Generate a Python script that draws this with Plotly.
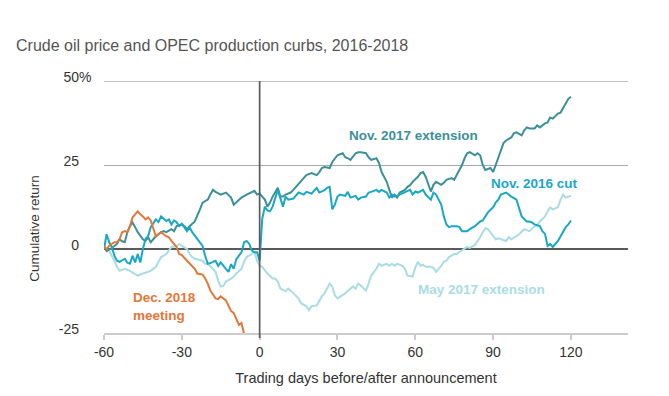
import plotly.graph_objects as go

# ---- data ----
nov2016_days = [-60, -59, -58, -57, -56, -55, -54, -52, -51, -50, -49, -48, -47, -46, -45, -44, -43, -42, -40, -39, -38, -36, -35, -34, -33, -32, -31, -30, -28, -27, -26, -24, -22, -21, -20, -19, -17, -16, -15, -13, -12, -11, -10, -9, -7, -6, -5, -4, -3, -2, -1, 0,
                1, 2, 3, 4, 5, 7, 8, 9, 10, 11, 13, 15, 17, 18, 20, 22, 23, 25, 26, 27, 28, 29, 30, 31, 33, 34, 35, 37, 38, 39, 41, 42, 43, 45, 46, 47, 49, 50, 51, 52, 54, 56, 58, 59, 60, 61, 63, 64, 66, 67, 68, 70, 71, 72, 73, 74, 76, 77, 78, 80, 81, 83, 85, 86, 87, 88, 90, 91, 92, 93, 95, 96, 97, 99, 100, 101, 103, 104, 105, 106, 108, 109, 110, 111, 112, 113, 115, 116, 117, 118, 119, 120]
nov2016_vals = [0.0, 4.4, 2.0, 0.6, -2.0, -3.5, -3.8, -2.9, -4.1, -4.4, -2.0, -4.0, -1.5, -4.0, 0.0, 3.0, 3.8, 6.5, 8.8, 8.0, 9.7, 8.3, 8.8, 7.3, 8.5, 8.0, 6.8, 7.5, 5.3, 6.5, 5.0, 2.9, 0.9, -2.0, -4.4, -4.2, -3.5, -5.0, -4.0, -5.9, -6.8, -4.5, -5.9, -3.0, -1.0, 2.0, 2.4, 1.5, -0.5, -1.0, -1.0, -3.5,
                9.0, 12.6, 11.5, 11.2, 12.6, 17.6, 14.7, 12.6, 15.6, 14.7, 15.0, 16.8, 16.2, 17.0, 16.5, 18.2, 16.8, 17.5, 18.2, 18.5, 11.8, 13.2, 15.6, 16.2, 15.8, 17.0, 15.3, 15.8, 14.7, 15.3, 15.6, 16.8, 17.0, 17.6, 17.0, 17.6, 16.8, 15.3, 16.2, 15.6, 16.2, 17.0, 17.6, 16.2, 17.1, 16.8, 17.6, 16.2, 14.7, 16.8, 16.2, 13.2, 9.7, 7.3, 6.5, 6.8, 6.8, 6.5, 5.3, 5.3, 5.9, 6.8, 8.2, 8.5, 9.7, 10.9, 12.4, 13.8, 14.7, 16.2, 16.8, 16.2, 15.6, 14.7, 12.4, 9.7, 8.2, 8.2, 7.9, 7.3, 6.8, 5.3, 4.5, 0.9, 1.5, 0.6, 2.4, 3.8, 5.0, 6.5, 7.3, 8.5]

nov2017_days = [-60, -59, -57, -55, -54, -53, -52, -51, -50, -49, -48, -47, -45, -44, -43, -42, -41, -40, -38, -37, -36, -34, -33, -32, -30, -29, -28, -27, -25, -24, -23, -22, -20, -19, -18, -17, -15, -13, -11, -10, -9, -7, -5, -3, -2, -1, 0,
                1, 2, 3, 4, 5, 7, 8, 9, 10, 12, 13, 14, 16, 17, 18, 20, 22, 23, 24, 25, 27, 28, 29, 30, 32, 33, 34, 35, 37, 38, 39, 41, 42, 43, 45, 46, 47, 49, 50, 51, 52, 53, 54, 56, 57, 58, 59, 61, 62, 63, 64, 65, 66, 67, 68, 70, 71, 72, 74, 75, 76, 78, 79, 80, 81, 83, 84, 85, 86, 87, 89, 90, 91, 93, 94, 95, 97, 98, 99, 101, 102, 103, 104, 106, 107, 108, 110, 111, 112, 113, 115, 116, 117, 118, 119, 120]
nov2017_vals = [0.9, -0.6, 0.3, 1.5, 2.9, 2.3, 2.0, 5.0, 6.8, 7.9, 6.5, 5.0, 2.9, 2.4, 3.5, 2.0, 2.9, 3.8, 5.0, 5.3, 5.0, 5.9, 5.3, 6.8, 7.3, 6.8, 5.9, 6.8, 8.2, 10.3, 11.8, 13.8, 14.7, 16.2, 17.6, 17.0, 16.2, 16.8, 15.3, 13.2, 14.0, 15.3, 16.2, 16.8, 17.3, 16.2, 16.5,
                15.6, 14.7, 12.6, 13.8, 15.6, 18.2, 15.6, 15.6, 16.2, 16.8, 17.6, 18.5, 20.0, 21.1, 22.0, 22.6, 22.0, 22.9, 24.1, 24.4, 24.1, 25.9, 27.0, 27.9, 28.5, 27.3, 27.0, 26.5, 28.5, 28.8, 28.8, 28.5, 27.3, 26.5, 27.0, 25.6, 22.9, 20.0, 17.6, 15.3, 16.2, 15.3, 16.8, 17.6, 18.5, 19.0, 20.0, 21.5, 22.6, 22.9, 21.5, 19.1, 17.1, 19.1, 20.0, 19.1, 19.7, 20.6, 21.1, 20.6, 22.0, 25.0, 27.0, 28.5, 28.8, 27.9, 28.5, 27.9, 25.0, 23.5, 24.1, 22.9, 25.0, 29.4, 31.5, 32.3, 33.2, 34.4, 34.7, 33.8, 35.3, 36.2, 35.9, 35.9, 36.8, 36.2, 37.4, 37.7, 39.1, 38.8, 40.3, 40.6, 42.0, 43.2, 44.7, 45.3]

may2017_days = [-60, -58, -56, -55, -54, -52, -50, -48, -47, -45, -43, -42, -40, -39, -38, -36, -35, -34, -32, -31, -30, -28, -27, -26, -25, -23, -22, -21, -20, -18, -17, -16, -15, -14, -13, -11, -10, -9, -7, -6, -5, -3, -2, -1, 0,
                1, 2, 3, 5, 6, 7, 8, 10, 11, 12, 14, 15, 16, 18, 19, 20, 22, 23, 24, 25, 27, 28, 29, 30, 32, 33, 34, 36, 37, 38, 39, 41, 42, 43, 45, 46, 47, 49, 50, 51, 52, 53, 55, 56, 57, 59, 60, 61, 62, 63, 64, 66, 67, 68, 70, 71, 72, 73, 75, 76, 77, 79, 80, 81, 83, 84, 85, 86, 87, 88, 89, 90, 91, 92, 93, 95, 96, 97, 99, 100, 102, 103, 104, 106, 107, 108, 110, 111, 112, 113, 115, 116, 117, 118, 120]
may2017_vals = [0.6, -0.6, -3.5, -5.3, -6.5, -5.9, -6.5, -7.3, -7.9, -7.3, -6.8, -6.5, -5.3, -3.8, -2.4, -1.5, -0.6, 0.6, 0.9, 1.5, 0.9, 0.0, -1.5, -2.4, -2.9, -3.2, -3.5, -4.4, -4.4, -5.9, -6.8, -9.4, -11.2, -11.0, -9.7, -8.8, -8.2, -7.3, -5.9, -3.8, -2.4, -1.5, -0.9, -3.5, -5.0,
                -5.3, -6.5, -7.3, -8.8, -8.8, -9.7, -11.8, -12.6, -11.8, -12.4, -14.1, -14.7, -16.2, -17.0, -18.2, -17.0, -16.8, -15.3, -14.1, -13.2, -10.3, -11.2, -13.8, -14.7, -13.8, -13.2, -12.4, -11.2, -11.8, -10.3, -10.9, -12.4, -10.3, -7.9, -5.9, -4.4, -5.0, -4.4, -5.0, -4.4, -5.0, -4.4, -5.0, -5.9, -7.9, -8.2, -5.5, -3.8, -5.0, -4.7, -5.3, -5.3, -5.6, -6.8, -5.0, -3.8, -3.5, -2.4, -1.5, -1.5, -0.9, 0.0, 0.6, 0.3, 1.2, 2.4, 3.5, 5.0, 6.2, 5.9, 5.0, 4.1, 2.9, 3.2, 3.0, 2.4, 3.5, 2.9, 3.8, 4.4, 5.9, 5.6, 5.3, 6.8, 7.0, 8.2, 9.7, 11.2, 12.4, 11.8, 12.4, 14.7, 16.2, 15.3, 15.9]

dec2018_days = [-60, -59, -58, -57, -56, -55, -54, -53, -52, -51, -50, -49, -48, -47, -46, -45, -44, -43, -42, -41, -40, -39, -38, -36, -35, -34, -32, -31, -30, -28, -27, -26, -25, -24, -22, -21, -20, -19, -17, -16, -15, -13, -12, -11, -10, -9, -8, -7, -6]
dec2018_vals = [0.6, 0.0, 1.0, 1.5, 2.0, 2.0, 2.9, 5.0, 5.3, 5.0, 6.8, 9.4, 10.3, 11.2, 10.3, 9.7, 8.8, 9.4, 8.5, 5.9, 3.8, 4.4, 5.0, 3.8, 3.5, 2.4, 0.6, -1.5, -1.8, -3.5, -4.4, -5.3, -5.9, -7.3, -7.6, -8.8, -10.3, -12.4, -14.7, -14.9, -14.1, -15.3, -17.0, -18.5, -19.0, -21.0, -22.6, -22.0, -25.3]

x_ticks = [-60, -30, 0, 30, 60, 90, 120]
x_tick_labels = ["-60", "-30", "0", "30", "60", "90", "120"]
y_ticks = [-25, 0, 25, 50]
y_tick_labels = ["-25", "0", "25", "50"]

title_text = "Crude oil price and OPEC production curbs, 2016-2018"
x_title = "Trading days before/after announcement"
y_title = "Cumulative return"

C_NOV17 = "#3d8f98"
C_NOV16 = "#19a8c3"
C_MAY17 = "#a9dde3"
C_DEC18 = "#e2773a"
FONT = "Liberation Sans, Arial, sans-serif"
TXT = "#333333"

# page is drawn inside a body with an 8px margin; layout below compensates
W, H = 661, 388
ML, MR, MT, MB = 96, 41, 73, 60

fig = go.Figure()
for xs, ys, col in [(may2017_days, may2017_vals, C_MAY17),
                    (nov2017_days, nov2017_vals, C_NOV17),
                    (nov2016_days, nov2016_vals, C_NOV16),
                    (dec2018_days, dec2018_vals, C_DEC18)]:
    fig.add_trace(go.Scatter(x=xs, y=ys, mode="lines",
                             line=dict(color=col, width=2), hoverinfo="skip",
                             showlegend=False))

# top gridline (at the range edge) and the announcement-day line
fig.add_shape(type="line", xref="paper", yref="y", x0=0, x1=1, y0=50, y1=50,
              line=dict(color="#a8a8a8", width=1.3), layer="below")
fig.add_shape(type="line", xref="x", yref="paper", x0=0, x1=0, y0=-0.02, y1=1,
              line=dict(color="#5a5a5a", width=1.7), layer="above")

labels = [
    ("Nov. 2017 extension", 59.5, 33.8, C_NOV17, "center"),
    ("Nov. 2016 cut", 106, 19.4, C_NOV16, "center"),
    ("May 2017 extension", 85.6, -12.0, C_MAY17, "center"),
    ("Dec. 2018<br>meeting", -49.6, -17.0, C_DEC18, "left"),
]
for txt, x, y, col, al in labels:
    fig.add_annotation(x=x, y=y, text="<b>" + txt + "</b>", showarrow=False,
                       xanchor=al, align="left",
                       font=dict(color=col, size=13.5, family=FONT))

# "%" hanging to the right of the top tick label
fig.add_annotation(xref="paper", yref="y", x=-(ML - 77 + 8) / 524 - 0.0, y=50,
                   text="%", showarrow=False, xanchor="left", yanchor="middle",
                   yshift=4, font=dict(size=14, color=TXT, family=FONT))

fig.add_annotation(xref="paper", yref="paper", x=(17 - ML) / 524, y=1 - (222 - MT) / 255,
                   text=y_title, textangle=-90, showarrow=False,
                   font=dict(size=13.5, color=TXT, family=FONT))

fig.update_layout(
    width=W, height=H,
    margin=dict(l=ML, r=MR, t=MT, b=MB),
    paper_bgcolor="white", plot_bgcolor="white",
    title=dict(text=title_text, x=8 / W, xref="container", xanchor="left",
               y=1 - 37 / H, yref="container", yanchor="middle",
               font=dict(size=16, color="#555555", family=FONT)),
    font=dict(family=FONT, size=14, color=TXT),
    xaxis=dict(range=[-60, 142], tickvals=x_ticks, ticktext=x_tick_labels,
               showgrid=False, zeroline=False,
               showline=True, linecolor="#cccccc", linewidth=2,
               ticks="outside", ticklen=5, tickcolor="#cccccc", tickwidth=1.5,
               tickfont=dict(size=14, color=TXT),
               title=dict(text=x_title, standoff=14, font=dict(size=14.5, color=TXT))),
    yaxis=dict(range=[-25, 50], tickvals=y_ticks, ticktext=y_tick_labels,
               showgrid=True, gridcolor="#a8a8a8", gridwidth=1.3,
               zeroline=True, zerolinecolor="#5a5a5a", zerolinewidth=2.2,
               showline=False, ticks="", ticklabelstandoff=24, ticklabelshift=-4,
               tickfont=dict(size=14, color=TXT)),
)

fig.write_html("out.html")
